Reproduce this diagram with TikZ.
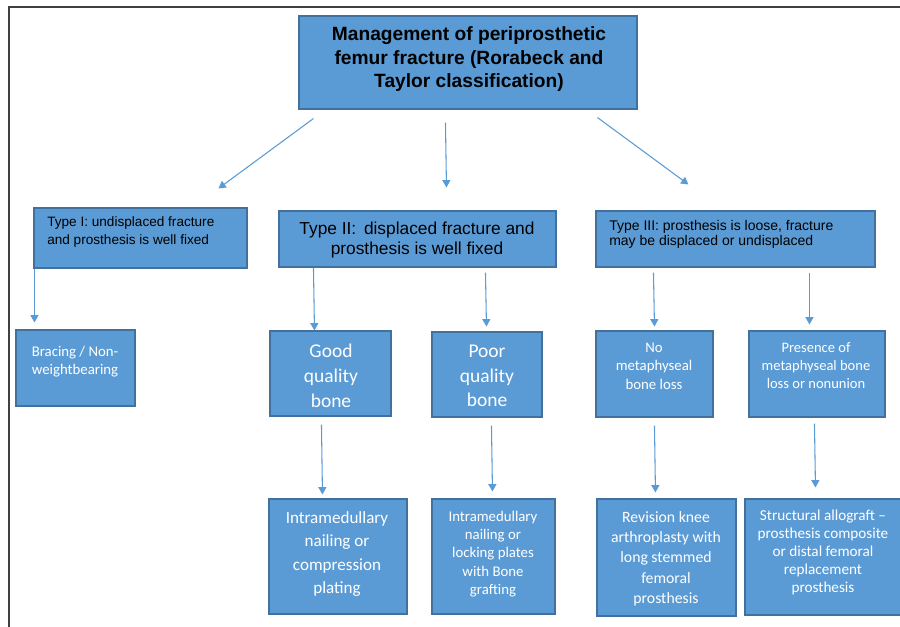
\documentclass[tikz,border=0pt]{standalone}
\usepackage{fontspec}
\setmainfont{Liberation Sans}
\newfontfamily\calfont{Carlito}
\usetikzlibrary{arrows.meta,fit,calc}
\definecolor{boxfill}{HTML}{5B9BD5}
\definecolor{bdr}{HTML}{41719C}
\definecolor{arrcol}{HTML}{5B9BD5}
\definecolor{frm}{HTML}{404040}
\begin{document}
\begin{tikzpicture}[x=0.75pt,y=-0.75pt,
  box/.style={draw=bdr, fill=boxfill, line width=0.8pt, inner sep=0pt},
  arr/.style={draw=arrcol, line width=0.8pt, -{Triangle[width=6pt,length=5.5pt]}},
  txt/.style={inner sep=0pt, execute at begin node=\strut, execute at end node=\strut},
  blk/.style={txt, text=black},
  wht/.style={txt, text=white, align=center}]
\useasboundingbox (0,0) rectangle (900,626);
% frame
\coordinate (fa) at (9,640);
\coordinate (fb) at (9,7);
\coordinate (fc) at (910,7);
\draw[frm, line width=1.2pt] (fa) -- (fb) -- (fc);
% boxes
\node[box, fit={(299,16)(637,109)}] (title) {};
\node[box, fit={(34,208)(247,268)}] (t1) {};
\node[box, fit={(279,211)(556,267)}] (t2) {};
\node[box, fit={(596,211)(875,267)}] (t3) {};
\node[box, fit={(16,330)(135,406)}] (brace) {};
\node[box, fit={(270,331)(391,416)}] (good) {};
\node[box, fit={(432,332)(542,417)}] (poor) {};
\node[box, fit={(596,331)(713,417)}] (nomet) {};
\node[box, fit={(749,331)(885,417)}] (pres) {};
\node[box, fit={(269,499)(407,614)}] (im1) {};
\node[box, fit={(432,499)(555,614)}] (im2) {};
\node[box, fit={(597,499)(736,616)}] (rev) {};
\node[box, fit={(745,499)(904,615)}] (stru) {};
% texts
\node[blk, align=center, font=\bfseries\fontsize{14.4}{17.3}\selectfont] (titlet) at (469,60.5)
  {Management of periprosthetic\\femur fracture (Rorabeck and\\Taylor classification)};
\node[blk, align=left, anchor=west, font=\fontsize{10.2}{13.5}\selectfont] (t1t) at (47,233)
  {Type I: undisplaced fracture\\and prosthesis is well fixed};
\node[blk, align=center, font=\fontsize{13}{15}\selectfont] (t2t) at (417,241)
  {Type II:\, displaced fracture and\\prosthesis is well fixed};
\node[blk, align=left, anchor=west, font=\fontsize{10.5}{11.25}\selectfont] (t3t) at (609,235.5)
  {Type III: prosthesis is loose, fracture\\may be displaced or undisplaced};
\node[wht, font=\calfont\fontsize{11.1}{13.5}\selectfont] (bracet) at (75,363)
  {Bracing / Non-\\weightbearing};
\node[wht, font=\calfont\fontsize{14.6}{18.6}\selectfont] (goodt) at (331,379.5)
  {Good\\quality\\bone};
\node[wht, font=\calfont\fontsize{14.6}{18.6}\selectfont] (poort) at (487,379.5)
  {Poor\\quality\\bone};
\node[wht, font=\calfont\fontsize{11.1}{13.9}\selectfont] (nomett) at (654,369)
  {No\\metaphyseal\\bone loss};
\node[wht, font=\calfont\fontsize{10.9}{13.5}\selectfont] (prest) at (816,368)
  {Presence of\\metaphyseal bone\\loss or nonunion};
\node[wht, font=\calfont\fontsize{12.8}{17.5}\selectfont] (im1t) at (337,556)
  {Intramedullary\\nailing or\\compression\\plating};
\node[wht, font=\calfont\fontsize{11.1}{13.7}\selectfont] (im2t) at (493,555.5)
  {Intramedullary\\nailing or\\locking plates\\with Bone\\grafting};
\node[wht, font=\calfont\fontsize{11.8}{15.2}\selectfont] (revt) at (666,560.5)
  {Revision knee\\arthroplasty with\\long stemmed\\femoral\\prosthesis};
\node[wht, font=\calfont\fontsize{11.4}{13.5}\selectfont] (strut) at (823,554)
  {Structural allograft –\\prosthesis composite\\or distal femoral\\replacement\\prosthesis};
% arrows from title
\draw[arr] ($(title.south west)+(15,9)$) -- ($(t1.north west)+(185,-19)$);
\draw[arr] ($(title.south west)+(147,13)$) -- ($(t2.north west)+(168,-23)$);
\draw[arr] ($(title.south west)+(299,8)$) -- ($(t3.north west)+(93,-26)$);
% level 2 arrows
\draw[arr] ($(t1.south west)+(1,0)$) -- ($(brace.north west)+(19,-7)$);
\draw[arr] ($(t2.south west)+(35,0)$) -- ($(good.north west)+(45,0)$);
\draw[arr] ($(t2.south west)+(207,5)$) -- ($(poor.north west)+(55,-5)$);
\draw[arr] ($(t3.south west)+(58,5)$) -- ($(nomet.north west)+(59,-4)$);
\draw[arr] ($(t3.south west)+(214,5)$) -- ($(pres.north west)+(61,-6)$);
% level 3 arrows
\draw[arr] ($(good.south west)+(52,8)$) -- ($(im1.north west)+(54,-4)$);
\draw[arr] ($(poor.south west)+(60,8)$) -- ($(im2.north west)+(61,-7)$);
\draw[arr] ($(nomet.south west)+(59,8)$) -- ($(rev.north west)+(59,-6)$);
\draw[arr] ($(pres.south west)+(66,6)$) -- ($(stru.north west)+(71,-11)$);
\end{tikzpicture}
\end{document}
